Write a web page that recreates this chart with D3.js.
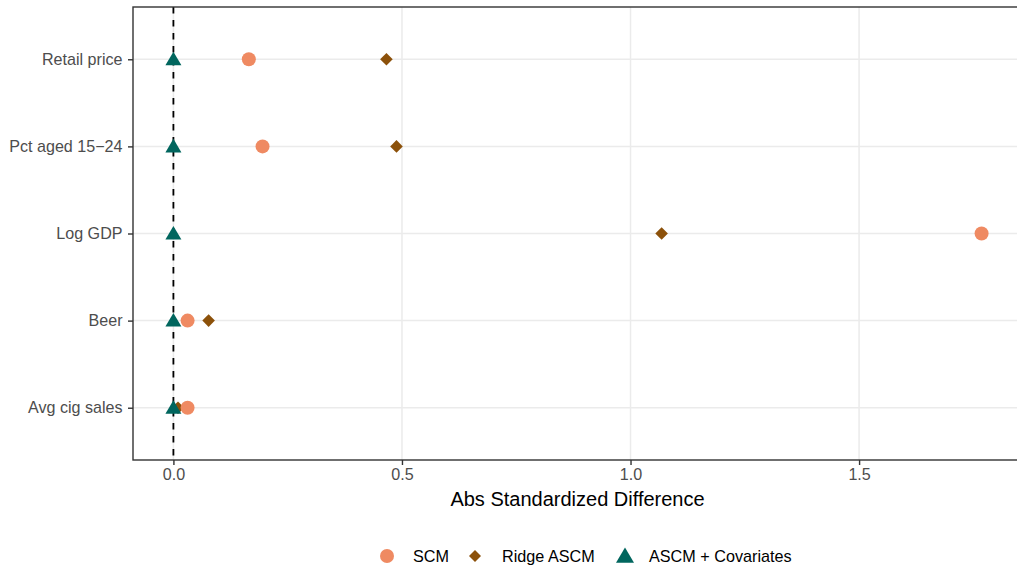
<!DOCTYPE html>
<html>
<head>
<meta charset="utf-8">
<script src="https://cdn.jsdelivr.net/npm/d3@7/dist/d3.min.js"></script>
<style>
  html, body { margin: 0; padding: 0; background: #ffffff; }
  svg { display: block; font-family: "Liberation Sans", Arial, Helvetica, sans-serif; }
</style>
</head>
<body>
<svg id="chart" width="1017" height="567"></svg>
<script>
// Covariates, top to bottom
const covariates = ["Retail price", "Pct aged 15\u221224", "Log GDP", "Beer", "Avg cig sales"];

// Absolute standardized difference for each method, per covariate
const scmValues   = [0.165, 0.195, 1.768, 0.031, 0.031];
const ridgeValues = [0.466, 0.488, 1.068, 0.077, 0.010];
const ascmCovValues = [0.0, 0.0, 0.0, 0.0, 0.0];

const xTicks = [0, 0.5, 1.0, 1.5];
const xTickLabels = ["0.0", "0.5", "1.0", "1.5"];

const methods = ["SCM", "Ridge ASCM", "ASCM + Covariates"];
const methodColors = ["#ef8a62", "#8c510a", "#01665e"];

const svg = d3.select("#chart");

const panel = { left: 133, top: 7, right: 1022, bottom: 460 };

// continuous x with 5% expansion on both sides
const allVals = scmValues.concat(ridgeValues, ascmCovValues);
const xmin = d3.min(allVals), xmax = d3.max(allVals);
const pad = (xmax - xmin) * 0.05;
const x = d3.scaleLinear()
  .domain([xmin - pad, xmax + pad])
  .range([panel.left, panel.right]);

// discrete y with 0.6 units of expansion
const y = d3.scalePoint()
  .domain(covariates)
  .range([panel.top, panel.bottom])
  .padding(0.6);

const gridColor = "#ebebeb";
const textGray = "#4d4d4d";
const tickFont = "16.1px";

// panel background + grid
const plot = svg.append("g");
plot.append("rect")
  .attr("x", panel.left).attr("y", panel.top)
  .attr("width", panel.right - panel.left).attr("height", panel.bottom - panel.top)
  .attr("fill", "#ffffff");

plot.selectAll("line.vgrid").data(xTicks).join("line")
  .attr("class", "vgrid")
  .attr("x1", d => x(d)).attr("x2", d => x(d))
  .attr("y1", panel.top).attr("y2", panel.bottom)
  .attr("stroke", gridColor).attr("stroke-width", 1.5);

plot.selectAll("line.hgrid").data(covariates).join("line")
  .attr("class", "hgrid")
  .attr("x1", panel.left).attr("x2", panel.right)
  .attr("y1", d => y(d)).attr("y2", d => y(d))
  .attr("stroke", gridColor).attr("stroke-width", 1.5);

// reference line at zero
plot.append("line")
  .attr("x1", x(0)).attr("x2", x(0))
  .attr("y1", panel.top).attr("y2", panel.bottom)
  .attr("stroke", "#000000").attr("stroke-width", 1.8)
  .attr("stroke-dasharray", "6.5,6.5");

// marker shapes
function circlePath(r) {
  return `M${r},0A${r},${r} 0 1,1 ${-r},0A${r},${r} 0 1,1 ${r},0Z`;
}
function diamondPath(h) {
  return `M0,${-h}L${h},0L0,${h}L${-h},0Z`;
}
function trianglePath(w, up, down) {
  return `M0,${-up}L${w / 2},${down}L${-w / 2},${down}Z`;
}
const shapes = [
  () => circlePath(7),
  () => diamondPath(6.3),
  () => trianglePath(16, 7.6, 6)
];

// draw order: Ridge, SCM, ASCM + Covariates
const seriesVals = [scmValues, ridgeValues, ascmCovValues];
[1, 0, 2].forEach(mi => {
  plot.append("g").selectAll("path")
    .data(covariates.map((c, i) => ({ c, v: seriesVals[mi][i] })))
    .join("path")
    .attr("transform", d => `translate(${x(d.v)},${y(d.c)})`)
    .attr("d", shapes[mi]())
    .attr("fill", methodColors[mi]);
});

// panel border
svg.append("rect")
  .attr("x", panel.left).attr("y", panel.top)
  .attr("width", panel.right - panel.left).attr("height", panel.bottom - panel.top)
  .attr("fill", "none").attr("stroke", "#333333").attr("stroke-width", 1.4);

// axes
const xAxis = d3.axisBottom(x)
  .tickValues(xTicks)
  .tickFormat((d, i) => xTickLabels[i])
  .tickSize(5).tickPadding(4);
const gx = svg.append("g")
  .attr("transform", `translate(0,${panel.bottom})`)
  .call(xAxis);
gx.select(".domain").remove();
gx.selectAll(".tick line").attr("stroke", "#333333").attr("stroke-width", 1.4);
gx.selectAll(".tick text")
  .attr("fill", textGray).attr("font-size", tickFont)
  .attr("font-family", "Liberation Sans, Arial, sans-serif");

const yAxis = d3.axisLeft(y).tickSize(5).tickPadding(5.5);
const gy = svg.append("g")
  .attr("transform", `translate(${panel.left},0)`)
  .call(yAxis);
gy.select(".domain").remove();
gy.selectAll(".tick line").attr("stroke", "#333333").attr("stroke-width", 1.4);
gy.selectAll(".tick text")
  .attr("fill", textGray).attr("font-size", tickFont)
  .attr("font-family", "Liberation Sans, Arial, sans-serif");

// x axis title
svg.append("text")
  .attr("x", (panel.left + panel.right) / 2 - 0)
  .attr("y", 506)
  .attr("text-anchor", "middle")
  .attr("font-size", "20px")
  .attr("fill", "#000000")
  .text("Abs Standardized Difference");

// legend
const legendY = 556;
const legendKeyX = [387, 475, 625];
const legendTextX = [413, 502, 649];
const legendShapes = [
  () => circlePath(7),
  () => diamondPath(6),
  () => trianglePath(18, 8.5, 6.8)
];
const legend = svg.append("g");
methods.forEach((m, i) => {
  legend.append("path")
    .attr("transform", `translate(${legendKeyX[i]},${legendY})`)
    .attr("d", legendShapes[i]())
    .attr("fill", methodColors[i]);
  legend.append("text")
    .attr("x", legendTextX[i])
    .attr("y", legendY)
    .attr("dy", "0.35em")
    .attr("font-size", "16.2px")
    .attr("fill", "#000000")
    .text(m);
});
</script>
</body>
</html>
